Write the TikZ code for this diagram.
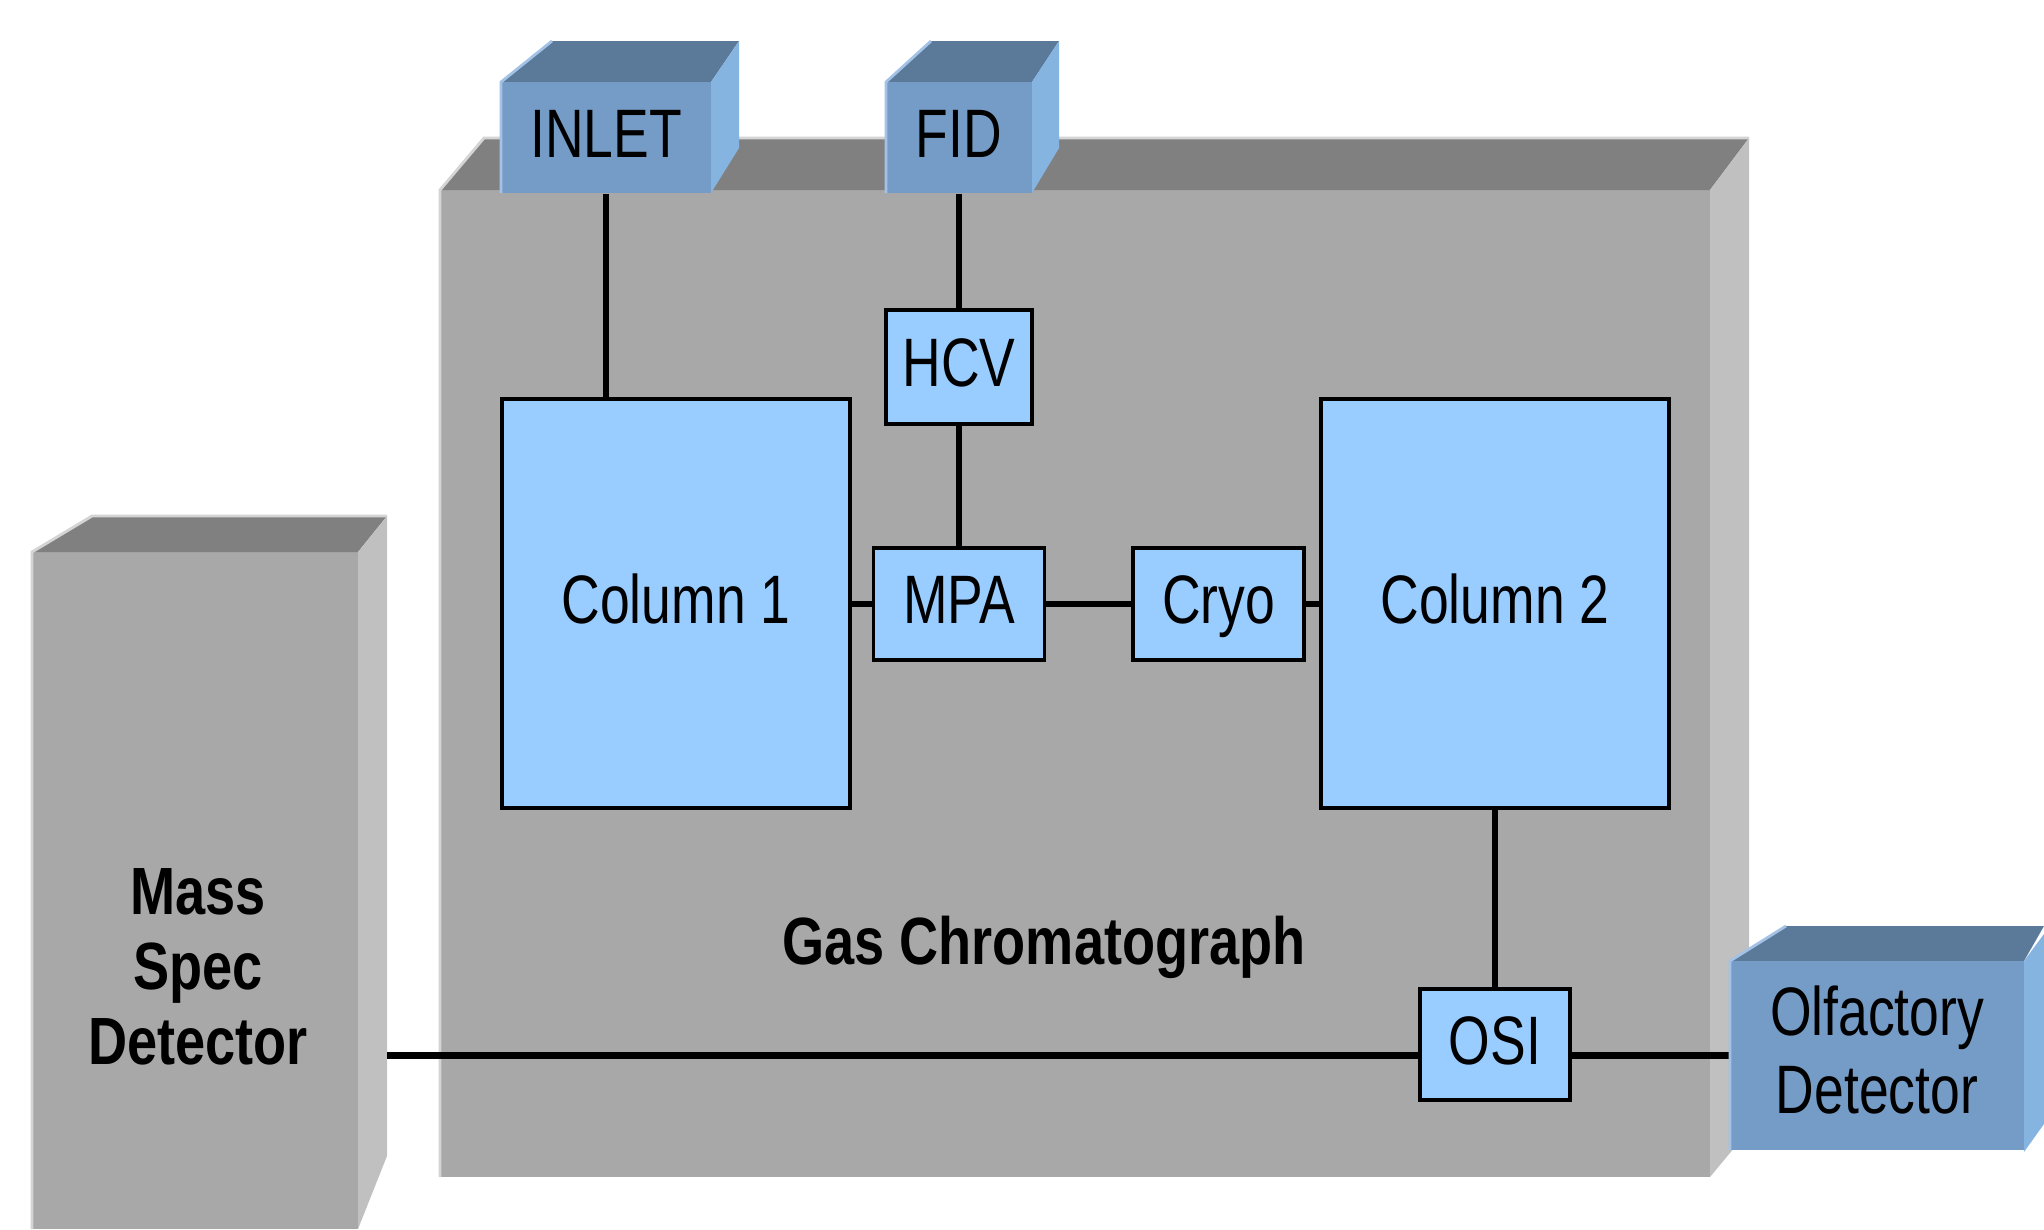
\documentclass[tikz,border=0pt]{standalone}
\usepackage{fontspec}
\setmainfont{Liberation Sans}
\newfontfamily\regfont[FakeStretch=0.78]{Liberation Sans}
\newfontfamily\boldfnt[FakeStretch=0.81]{Liberation Sans Bold}
\definecolor{gcfront}{HTML}{A8A8A8}
\definecolor{gctop}{HTML}{808080}
\definecolor{gcside}{HTML}{C0C0C0}
\definecolor{gcedge}{HTML}{D4D4D4}
\definecolor{bfront}{HTML}{759CC6}
\definecolor{btop}{HTML}{5B7A9A}
\definecolor{bside}{HTML}{86B4E0}
\definecolor{bedge}{HTML}{A3C2E6}
\definecolor{boxblue}{HTML}{99CCFF}
\pgfdeclarelayer{back}
\pgfdeclarelayer{mid}
\pgfsetlayers{back,mid,main}
\tikzset{
  x=0.01cm, y=-0.01cm,
  regtxt/.style={font=\regfont\fontsize{19.5}{22.5}\selectfont},
  boldtxt/.style={font=\boldfnt\fontsize{19}{21.3}\selectfont},
  inbox/.style={draw=black, line width=1.0pt, fill=boxblue, inner sep=0pt, regtxt,
                text height=14pt, text depth=2.84pt},
  cubefront/.style={fill=bfront, inner sep=0pt, align=center, regtxt,
                text height=14pt, text depth=2.84pt},
  conn/.style={line width=1.8pt, draw=black},
  lbl/.style={inner sep=0pt, align=center, boldtxt},
  txtlbl/.style={inner sep=0pt, align=center, regtxt}
}
\begin{document}
\begin{tikzpicture}
\useasboundingbox (0,0) rectangle (2044,1229);

% Gas chromatograph and mass spec bodies
\begin{pgfonlayer}{back}
  \fill[white] (0,0) rectangle (2044,1229);
  \fill[gcfront] (440,190) rectangle (1710,1177);
  \fill[gctop] (440,190) -- (484,138) -- (1749,138) -- (1710,190) -- cycle;
  \fill[gcside] (1710,190) -- (1749,138) -- (1749,1130) -- (1710,1177) -- cycle;
  \draw[gcedge, line width=0.8pt] (440,1177) -- (440,190) -- (484,138) -- (1749,138);
  \fill[gcfront] (32,552) rectangle (358,1229);
  \fill[gctop] (32,552) -- (92,516) -- (387,516) -- (358,552) -- cycle;
  \fill[gcside] (358,552) -- (387,516) -- (387,1156) -- (358,1229) -- cycle;
  \draw[gcedge, line width=0.8pt] (32,1229) -- (32,552) -- (92,516) -- (387,516);
\end{pgfonlayer}

% INLET cube
\fill[btop] (501,82) -- (552,41) -- (739,41) -- (711,82) -- cycle;
\fill[bside] (711,82) -- (739,41) -- (739,148) -- (711,193) -- cycle;
\node[cubefront, minimum width=2.10cm, minimum height=1.11cm] (inlet) at (606,137.5) {INLET};
\draw[bedge, line width=0.8pt] (501,193) -- (501,82) -- (552,41);

% FID cube
\fill[btop] (886,82) -- (931,41) -- (1059,41) -- (1032,82) -- cycle;
\fill[bside] (1032,82) -- (1059,41) -- (1059,148) -- (1032,193) -- cycle;
\node[cubefront, minimum width=1.46cm, minimum height=1.11cm] (fid) at (959,137.5) {FID};
\draw[bedge, line width=0.8pt] (886,193) -- (886,82) -- (931,41);

% Inner boxes
\node[inbox, minimum width=3.48cm, minimum height=4.09cm] (col1) at (676,603.5) {Column 1};
\node[inbox, minimum width=3.48cm, minimum height=4.09cm] (col2) at (1495,603.5) {Column 2};
\node[inbox, minimum width=1.46cm, minimum height=1.14cm] (hcv) at (959,367) {HCV};
\node[inbox, minimum width=1.71cm, minimum height=1.12cm] (mpa) at (959,604) {MPA};
\node[inbox, minimum width=1.71cm, minimum height=1.12cm] (cryo) at (1218.5,604) {Cryo};
\node[inbox, minimum width=1.50cm, minimum height=1.11cm] (osi) at (1495,1044.5) {OSI};

% Olfactory detector cube
\fill[btop] (1730,961) -- (1786,926) -- (2044,926) -- (2024,961) -- cycle;
\fill[bside] (2024,961) -- (2044,934) -- (2044,1124) -- (2024,1152) -- cycle;
\node[fill=bfront, inner sep=0pt, minimum width=2.94cm, minimum height=1.89cm] (olf) at (1877,1055.5) {};
\draw[bedge, line width=0.8pt] (1730,1150) -- (1730,961) -- (1786,926);
\node[txtlbl, font=\regfont\fontsize{19.5}{22.2}\selectfont] (olftxt) at (1877,1050) {Olfactory\\Detector};

% Labels
\node[lbl] (gc) at (1044,947) {Gas Chromatograph};
\node[lbl] (ms) at (198,967) {Mass\\Spec\\Detector};
\coordinate (msedge) at (387,1055.5);

% Connectors
\begin{pgfonlayer}{mid}
  \draw[conn] (inlet.south) -- (inlet.south |- col1.north);
  \draw[conn] (fid.south) -- (hcv.north);
  \draw[conn] (hcv.south) -- (mpa.north);
  \draw[conn] (col1.east |- mpa.west) -- (mpa.west);
  \draw[conn] (mpa.east) -- (cryo.west);
  \draw[conn] (cryo.east) -- (cryo.east -| col2.west);
  \draw[conn] (col2.south) -- (osi.north);
  \draw[conn] (msedge) -- (olf.west);
\end{pgfonlayer}
\end{tikzpicture}
\end{document}
